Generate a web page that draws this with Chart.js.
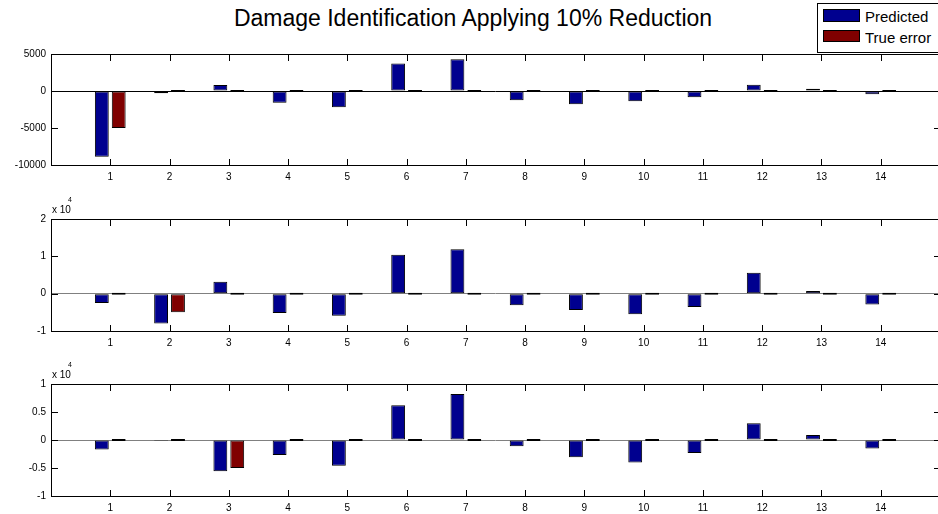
<!DOCTYPE html>
<html>
<head>
<meta charset="utf-8">
<script src="https://cdn.jsdelivr.net/npm/chart.js@4.4.1/dist/chart.umd.min.js"></script>
<style>
    html, body { margin: 0; padding: 0; width: 938px; height: 514px; overflow: hidden; background: #fff; }
    body { position: relative; font-family: "Liberation Sans", Arial, sans-serif; color: #000; }
    .panel { position: absolute; left: 0; }
    .panel canvas { display: block; }
    #titulo { position: absolute; left: 0; width: 946px; top: 7px; text-align: center; font-size: 23px; line-height: 23px; white-space: nowrap; }
    #leyenda { position: absolute; left: 817px; top: 3px; width: 140px; height: 48px; border: 1px solid #000; background: #fff; }
    .sw { position: absolute; left: 5px; width: 35px; border: 1px solid #000; }
    .txt { position: absolute; left: 47px; font-size: 15px; line-height: 15px; white-space: nowrap; }
    .exp { position: absolute; left: 52px; font-size: 10px; line-height: 10px; white-space: nowrap; }
    .exp sup { position: absolute; left: 16px; top: -9px; font-size: 7px; line-height: 7px; }
</style>
</head>
<body>
<div id="titulo">Damage Identification Applying 10% Reduction</div>

<div class="panel" style="top:40px"><canvas id="g1" width="946" height="150"></canvas></div>
<div class="panel" style="top:200px"><canvas id="g2" width="946" height="155"></canvas></div>
<div class="panel" style="top:364px"><canvas id="g3" width="946" height="150"></canvas></div>

<div class="exp" style="top:205px">x 10<sup>4</sup></div>
<div class="exp" style="top:370px">x 10<sup>4</sup></div>

<div id="leyenda">
    <div class="sw" style="top:5px;height:11px;background:#00008F"></div>
    <div class="txt" style="top:5px">Predicted</div>
    <div class="sw" style="top:26px;height:10px;background:#800000"></div>
    <div class="txt" style="top:26px">True error</div>
</div>

<script>
// elementos 1..14
const elementos = ['1', '2', '3', '4', '5', '6', '7', '8', '9', '10', '11', '12', '13', '14'];

// caso 1: dano en el elemento 1
const predicho_1 = [-8900, -300, 800, -1600, -2200, 3700, 4300, -1250, -1800, -1400, -850, 850, 300, -450];
const real_1 = [-5000, 0, 0, 0, 0, 0, 0, 0, 0, 0, 0, 0, 0, 0];

// caso 2: dano en el elemento 2
const predicho_2 = [-2500, -8000, 3200, -5200, -5900, 10400, 11900, -3100, -4400, -5500, -3600, 5600, 700, -2900];
const real_2 = [0, -5000, 0, 0, 0, 0, 0, 0, 0, 0, 0, 0, 0, 0];

// caso 3: dano en el elemento 3
const predicho_3 = [-1700, -200, -5600, -2700, -4600, 6200, 8200, -1100, -3100, -4000, -2300, 3000, 900, -1500];
const real_3 = [0, 0, -5000, 0, 0, 0, 0, 0, 0, 0, 0, 0, 0, 0];

// ticks del eje y
const ticks_1 = [-10000, -5000, 0, 5000];
const ticks_2 = [-10000, 0, 10000, 20000];
const ticks_3 = [-10000, -5000, 0, 5000, 10000];

const azul = '#00008F';
const rojo = '#800000';
const fuente = { family: '"Liberation Sans", Arial, sans-serif', size: 10 };

// marco y marcas hacia dentro, estilo matlab
const marco = {
    id: 'marco',
    afterDraw(chart) {
        const ctx = chart.ctx;
        const a = chart.chartArea;
        const xs = chart.scales.x;
        const ys = chart.scales.y;
        const l = Math.round(a.left), r = Math.round(a.right);
        const t = Math.round(a.top), b = Math.round(a.bottom);
        ctx.save();
        ctx.fillStyle = '#000';
        // marco
        ctx.fillRect(l, t, r - l + 1, 1);
        ctx.fillRect(l, b, r - l + 1, 1);
        ctx.fillRect(l, t, 1, b - t + 1);
        ctx.fillRect(r, t, 1, b - t + 1);
        // marcas en x
        for (let i = 1; i <= elementos.length; i++) {
            const x = Math.round(xs.getPixelForValue(i));
            ctx.fillRect(x, t, 1, 7);
            ctx.fillRect(x, b - 6, 1, 7);
        }
        // marcas en y
        ys.ticks.forEach(function(tk) {
            const y = Math.round(ys.getPixelForValue(tk.value));
            ctx.fillRect(l, y, 7, 1);
            ctx.fillRect(r - 6, y, 7, 1);
        });
        ctx.restore();
    }
};

function crearGrafica(id, predicho, real, ticks, escala, arriba, altoX, colorCero) {
    const labels = [''].concat(elementos, ['']);
    new Chart(document.getElementById(id), {
        type: 'bar',
        data: {
            labels: labels,
            datasets: [{
                label: 'Predicted',
                data: [null].concat(predicho, [null]),
                backgroundColor: azul,
                borderColor: '#000',
                borderWidth: 1,
                borderSkipped: false,
                categoryPercentage: 0.57,
                barPercentage: 0.82
            }, {
                label: 'True error',
                data: [null].concat(real, [null]),
                backgroundColor: rojo,
                borderColor: '#000',
                borderWidth: 1,
                borderSkipped: false,
                minBarLength: 2,
                categoryPercentage: 0.57,
                barPercentage: 0.82
            }]
        },
        options: {
            responsive: false,
            animation: false,
            layout: { padding: { top: arriba, right: 2, left: 0, bottom: 0 } },
            plugins: {
                legend: { display: false },
                title: { display: false },
                tooltip: { enabled: false }
            },
            scales: {
                x: {
                    offset: false,
                    grid: { display: false, drawTicks: false },
                    border: { display: false },
                    ticks: { autoSkip: false, maxRotation: 0, padding: 6, color: '#000', font: fuente },
                    afterFit: function(s) { s.height = altoX; }
                },
                y: {
                    min: ticks[0],
                    max: ticks[ticks.length - 1],
                    afterBuildTicks: function(s) { s.ticks = ticks.map(v => ({ value: v })); },
                    grid: {
                        drawTicks: false,
                        color: c => (c.tick && c.tick.value === 0) ? colorCero : 'rgba(0,0,0,0)'
                    },
                    border: { display: false },
                    ticks: {
                        padding: 5,
                        color: '#000',
                        font: fuente,
                        callback: v => String(v / escala)
                    },
                    afterFit: function(s) { s.width = 51; }
                }
            }
        },
        plugins: [marco]
    });
}

crearGrafica('g1', predicho_1, real_1, ticks_1, 1, 14, 25, '#000');
crearGrafica('g2', predicho_2, real_2, ticks_2, 10000, 19, 24, '#808080');
crearGrafica('g3', predicho_3, real_3, ticks_3, 10000, 20, 18, '#808080');
</script>
</body>
</html>
